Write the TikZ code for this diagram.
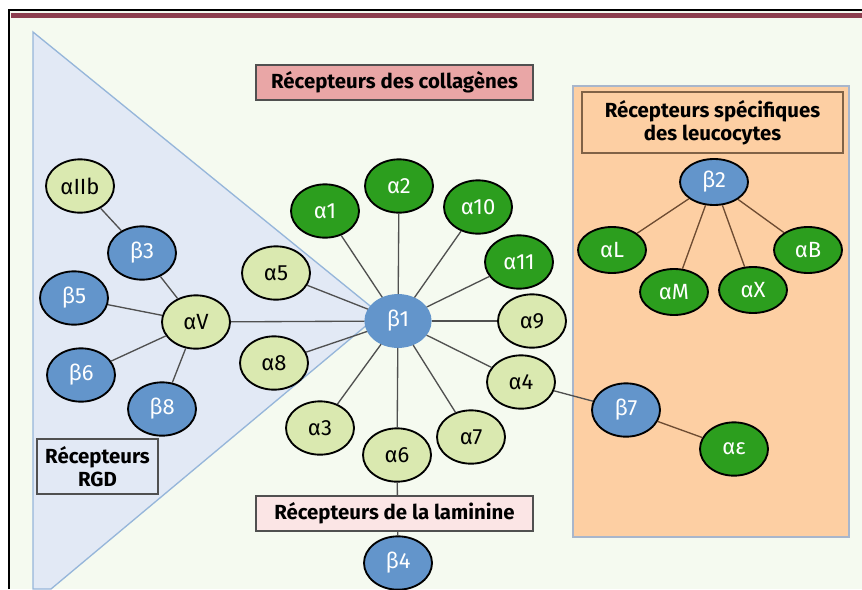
\documentclass[tikz,border=0pt]{standalone}
\usepackage{fontspec}
\setmainfont{Fira Sans}
\usetikzlibrary{shapes.geometric}

\definecolor{fondcreme}{RGB}{245,250,240}
\definecolor{bordeaux}{RGB}{140,62,78}
\definecolor{trifond}{RGB}{226,233,245}
\definecolor{trilign}{RGB}{150,182,218}
\definecolor{orfond}{RGB}{253,207,163}
\definecolor{orlign}{RGB}{168,182,204}
\definecolor{rosefonce}{RGB}{233,166,166}
\definecolor{roseclair}{RGB}{251,229,229}
\definecolor{brun}{RGB}{128,98,70}
\definecolor{vertfonce}{RGB}{44,158,30}
\definecolor{vertclair}{RGB}{218,233,176}
\definecolor{bleuint}{RGB}{99,149,203}
\definecolor{lien}{RGB}{80,80,80}
\definecolor{lienbrun}{RGB}{110,76,50}

\tikzset{
  integ/.style={ellipse, draw=black, line width=1.4pt, minimum width=51pt, minimum height=40pt, inner sep=0pt, font=\fontsize{16.5}{16.5}\selectfont},
  sousA/.style={integ, fill=vertfonce, text=white},
  sousAc/.style={integ, fill=vertclair, text=black},
  sousB/.style={integ, fill=bleuint, text=white},
  petit/.style={minimum height=34.5pt},
  titre/.style={draw=lien, line width=0.8pt, font=\fontsize{15.3}{17.5}\selectfont\bfseries, align=center, inner sep=0pt},
  trait/.style={draw=lien, line width=1pt},
  traitbrun/.style={draw=lienbrun, line width=1pt}
}

\begin{document}
\begin{tikzpicture}[x=0.75pt,y=0.75pt,yscale=-1,xscale=1]
\useasboundingbox (0,0) rectangle (862,589);

%Shape: Frame
\fill[white] (0,0) rectangle (862,589);
\fill[fondcreme] (9,10) rectangle (862,589);
\draw[black, line width=1.3pt] (9,589) -- (9,10) -- (862,10);
\fill[bordeaux] (11,13) rectangle (862,18);

%Shape: Triangle (RGD)
\draw[fill=trifond, draw=trilign, line width=1pt] (33,32) -- (380,314) -- (51,589) -- (33,589) -- cycle;

%Shape: Rectangle (leucocytes)
\draw[fill=orfond, draw=orlign, line width=1.2pt] (573,86) rectangle (849,537);

% beta1 and partners
\node[sousB, draw=bleuint, minimum width=49pt, minimum height=39pt] (b1) at (398,321) {β1};
\node[sousA] (a1) at (325,211) {α1};
\node[sousA] (a2) at (399,186) {α2};
\node[sousA] (a10) at (478,207) {α10};
\node[sousA] (a11) at (519,262) {α11};
\node[sousAc] (a9) at (532,321) {α9};
\node[sousAc] (a4) at (521,382) {α4};
\node[sousAc] (a7) at (471,437) {α7};
\node[sousAc] (a6) at (397,455) {α6};
\node[sousAc] (a3) at (320,428) {α3};
\node[sousAc] (a8) at (274,363) {α8};
\node[sousAc] (a5) at (276,273) {α5};
\node[sousAc] (aV) at (196,322) {αV};

% RGD side
\node[sousAc] (aIIb) at (80,186) {αIIb};
\node[sousB] (b3) at (142,253) {β3};
\node[sousB] (b5) at (74,298) {β5};
\node[sousB] (b6) at (81,375) {β6};
\node[sousB] (b8) at (162,409) {β8};

% laminine / beta7
\node[sousB] (b4) at (398,563) {β4};
\node[sousB] (b7) at (626,410) {β7};
\node[sousA] (aE) at (734,449) {αε};

% leucocytes
\node[sousB, petit] (b2) at (714,182) {β2};
\node[sousA, petit] (aL) at (612,250) {αL};
\node[sousA, petit] (aM) at (674,292) {αM};
\node[sousA, petit] (aX) at (753,290) {αX};
\node[sousA, petit] (aB) at (808,250) {αB};

%Straight Lines
\foreach \n in {a1,a2,a10,a11,a9,a4,a7,a6,a3,a8,a5,aV}
  \draw[trait] (b1) -- (\n);
\draw[trait] (aIIb) -- (b3);
\draw[trait] (b3) -- (aV);
\draw[trait] (b5) -- (aV);
\draw[trait] (b6) -- (aV);
\draw[trait] (b8) -- (aV);
\draw[trait] (a6) -- (b4);
\draw[trait] (a4) -- (b7);
\draw[traitbrun] (b7) -- (aE);
\foreach \n in {aL,aM,aX,aB}
  \draw[traitbrun] (b2) -- (\n);

% Text Node
\node[titre, fill=rosefonce, minimum width=207.75pt, minimum height=26.25pt] (coll) at (394.5,82.5) {Récepteurs des collagènes};
% Text Node
\node[titre, fill=roseclair, minimum width=207.75pt, minimum height=26.25pt] (lam) at (394.5,513.5) {Récepteurs de la laminine};
% Text Node
\node[titre, fill=trifond, minimum width=90.75pt, minimum height=41.25pt] (rgd) at (97.5,466.5) {Récepteurs\\RGD};
% Text Node
\node[titre, fill=orfond, draw=brun, minimum width=195.75pt, minimum height=45.75pt] (leuco) at (712.5,122.5) {Récepteurs spécifiques\\des leucocytes};

\end{tikzpicture}
\end{document}
